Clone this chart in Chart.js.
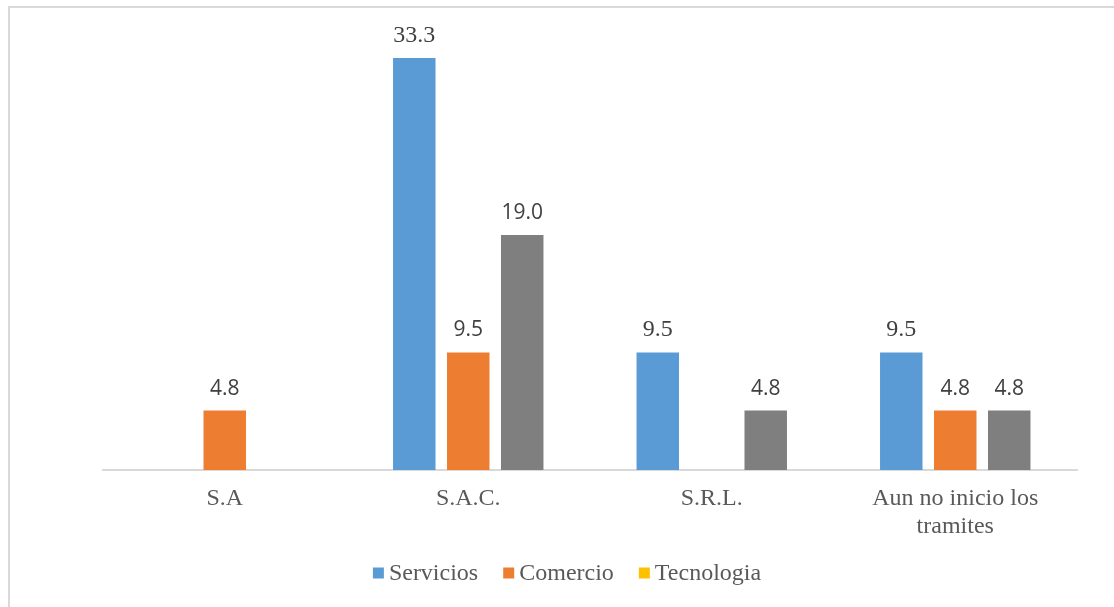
<!DOCTYPE html>
<html>
<head>
<meta charset="utf-8">
<script src="https://cdn.jsdelivr.net/npm/chart.js@4/dist/chart.umd.min.js"></script>
<style>
  html, body { margin: 0; padding: 0; background: #fff; overflow: hidden; }
  #marco {
    position: absolute; left: 8px; top: 6px; width: 1200px; height: 700px;
    border-left: 2px solid #d9d9d9; border-top: 2px solid #d9d9d9;
  }
  #caja { position: absolute; left: 0; top: 0; width: 1114px; height: 607px; }
</style>
</head>
<body>
<div id="marco"></div>
<div id="caja"><canvas id="grafica"></canvas></div>
<script>
const categorias = ['S.A', 'S.A.C.', 'S.R.L.', ['Aun no inicio los', 'tramites']];
const servicios = [null, 33.3, 9.5, 9.5];
const comercio = [4.8, 9.5, null, 4.8];
const tecnologia = [null, 19.0, 4.8, 4.8];

const colores = ['#5B9BD5', '#ED7D31', '#7F7F7F'];
const coloresLeyenda = ['#5B9BD5', '#ED7D31', '#FFC000'];
const nombres = ['Servicios', 'Comercio', 'Tecnologia'];

// etiquetas encima de las barras
const etiquetas = {
    id: 'etiquetas',
    afterDatasetsDraw(chart) {
        const ctx = chart.ctx;
        ctx.save();
        ctx.textAlign = 'center';
        ctx.textBaseline = 'alphabetic';
        ctx.fillStyle = '#404040';
        chart.data.datasets.forEach((ds, i) => {
            const meta = chart.getDatasetMeta(i);
            const fuente = i === 0 ? '24px "Liberation Serif", serif' : '21px "Open Sans", sans-serif';
            meta.data.forEach((bar, j) => {
                const v = ds.data[j];
                if (v === null || v === undefined) return;
                ctx.font = fuente;
                ctx.fillText(v.toFixed(1), bar.x, bar.y - 16);
            });
        });
        ctx.restore();
    }
};

// leyenda propia (el cuadro de Tecnologia es amarillo)
const leyenda = {
    id: 'leyenda',
    afterDraw(chart) {
        const ctx = chart.ctx;
        ctx.save();
        ctx.font = '24px "Liberation Serif", serif';
        ctx.textBaseline = 'middle';
        const caja = 11, hueco = 5, sep = 25;
        let total = 0;
        const anchos = nombres.map(n => ctx.measureText(n).width);
        anchos.forEach((w, i) => { total += caja + hueco + w + (i ? sep : 0); });
        let x = 567 - total / 2;
        const y = 573;
        nombres.forEach((n, i) => {
            ctx.fillStyle = coloresLeyenda[i];
            ctx.fillRect(x, y - caja / 2, caja, caja);
            ctx.fillStyle = '#595959';
            ctx.fillText(n, x + caja + hueco, y + 1);
            x += caja + hueco + anchos[i] + sep;
        });
        ctx.restore();
    }
};

const ctx = document.getElementById('grafica').getContext('2d');
const chart = new Chart(ctx, {
    type: 'bar',
    data: {
        labels: categorias,
        datasets: [servicios, comercio, tecnologia].map((d, i) => ({
            label: nombres[i],
            data: d,
            backgroundColor: colores[i],
            categoryPercentage: 0.665,
            barPercentage: 0.787
        }))
    },
    options: {
        responsive: true,
        maintainAspectRatio: false,
        animation: false,
        layout: { padding: { left: 103, right: 37, top: 37, bottom: 57 } },
        plugins: {
            legend: { display: false },
            tooltip: { enabled: false }
        },
        scales: {
            x: {
                grid: { display: false },
                border: { color: '#d9d9d9', width: 2 },
                ticks: {
                    color: '#595959',
                    font: { family: 'Liberation Serif', size: 24, lineHeight: 1.17 },
                    padding: 7,
                    maxRotation: 0
                },
                afterFit(scale) { scale.height = 80; }
            },
            y: {
                display: false,
                min: 0,
                max: 35
            }
        }
    },
    plugins: [etiquetas, leyenda]
});
</script>
</body>
</html>
